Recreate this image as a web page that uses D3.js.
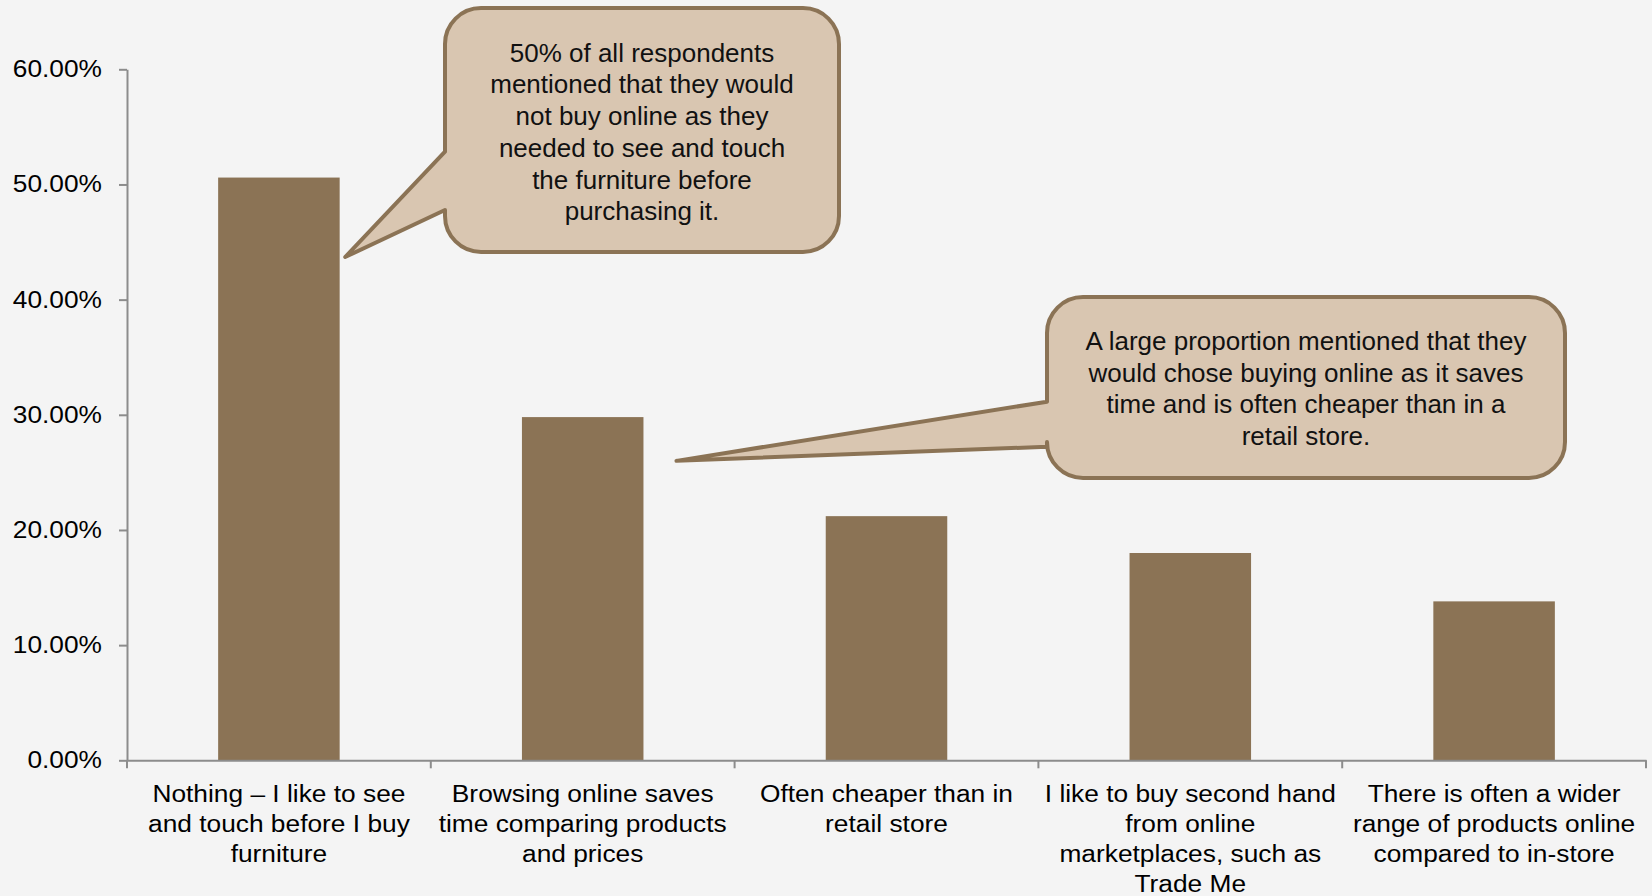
<!DOCTYPE html>
<html>
<head>
<meta charset="utf-8">
<script src="https://cdn.jsdelivr.net/npm/d3@7"></script>
<style>
  body { margin: 0; background: #f4f4f4; }
  svg { display: block; font-family: "Liberation Sans", Arial, sans-serif; }
</style>
</head>
<body>
<svg></svg>
<script>
// data
let categories = [
    ['Nothing \u2013 I like to see', 'and touch before I buy', 'furniture'],
    ['Browsing online saves', 'time comparing products', 'and prices'],
    ['Often cheaper than in', 'retail store'],
    ['I like to buy second hand', 'from online', 'marketplaces, such as', 'Trade Me'],
    ['There is often a wider', 'range of products online', 'compared to in-store']
]
let values = [0.506, 0.298, 0.212, 0.180, 0.138]
let yTicks = [0, 0.1, 0.2, 0.3, 0.4, 0.5, 0.6]

let note1 = ['50% of all respondents', 'mentioned that they would', 'not buy online as they',
    'needed to see and touch', 'the furniture before', 'purchasing it.']
let note2 = ['A large proportion mentioned that they', 'would chose buying online as it saves',
    'time and is often cheaper than in a', 'retail store.']

let width = 1652
let height = 896
let plotLeft = 127
let plotRight = 1646
let plotTop = 69.3
let plotBottom = 760.3

let barColor = '#8b7355'
let noteFill = '#d9c6b1'
let axisColor = '#8c8c8c'
let stretch = 1.12

let svg = d3.select('svg')
    .attr('width', width)
    .attr('height', height)

svg.append('rect')
    .attr('width', width)
    .attr('height', height)
    .attr('fill', '#f4f4f4')

let keys = categories.map((c, i) => i)

let xScale = d3.scaleBand()
    .domain(keys)
    .range([plotLeft, plotRight])
    .paddingInner(0.6)
    .paddingOuter(0.3)

let yScale = d3.scaleLinear()
    .domain([0, 0.6])
    .range([plotBottom, plotTop])

// bars
svg.append('g')
    .selectAll('rect')
    .data(values)
    .enter()
    .append('rect')
    .attr('x', (d, i) => xScale(i))
    .attr('y', (d) => yScale(d))
    .attr('width', xScale.bandwidth())
    .attr('height', (d) => plotBottom - yScale(d))
    .attr('fill', barColor)

// y axis
let yAxis = d3.axisLeft(yScale)
    .tickValues(yTicks)
    .tickFormat(d3.format('.2%'))
    .tickSize(8)
    .tickSizeOuter(0)

let yg = svg.append('g')
    .attr('transform', 'translate(' + plotLeft + ',0)')
    .call(yAxis)
yg.select('.domain').attr('stroke', axisColor).attr('stroke-width', 2)
yg.selectAll('.tick line').attr('stroke', axisColor).attr('stroke-width', 2)
yg.selectAll('.tick text')
    .attr('x', 0)
    .attr('transform', 'translate(-25,0) scale(' + stretch + ',1)')
    .attr('fill', '#000')
    .style('font-size', '23.5px')
    .style('font-family', '"Liberation Sans", Arial, sans-serif')

// x axis
let xAxis = d3.axisBottom(xScale)
    .tickSize(0)
    .tickFormat('')

let xg = svg.append('g')
    .attr('transform', 'translate(0,' + plotBottom + ')')
    .call(xAxis)
xg.select('.domain').attr('stroke', axisColor).attr('stroke-width', 2)
xg.selectAll('.tick').remove()

let step = xScale.step()
let bounds = d3.range(keys.length + 1).map((i) => xScale(0) - xScale.paddingOuter() * step + i * step)
xg.selectAll('.bound')
    .data(bounds)
    .enter()
    .append('line')
    .attr('x1', (d) => d)
    .attr('x2', (d) => d)
    .attr('y1', 0)
    .attr('y2', 8)
    .attr('stroke', axisColor)
    .attr('stroke-width', 2)

let labels = svg.append('g')
    .selectAll('g')
    .data(categories)
    .enter()
    .append('g')
    .attr('transform', (d, i) => 'translate(' + (xScale(i) + xScale.bandwidth() / 2) + ',0)')
    .append('text')
    .attr('transform', 'scale(' + stretch + ',1)')
    .attr('text-anchor', 'middle')
    .style('font-size', '23.5px')
    .attr('fill', '#000')

labels.selectAll('tspan')
    .data((d) => d)
    .enter()
    .append('tspan')
    .attr('x', 0)
    .attr('y', (d, j) => 801.7 + j * 30)
    .text((d) => d)

// callouts
let callout = (box, tip, baseTop, baseBottom, lines, firstBase) => {
    let r = 36
    let p = d3.path()
    p.moveTo(box.l + r, box.t)
    p.lineTo(box.r - r, box.t)
    p.arcTo(box.r, box.t, box.r, box.t + r, r)
    p.lineTo(box.r, box.b - r)
    p.arcTo(box.r, box.b, box.r - r, box.b, r)
    p.lineTo(box.l + r, box.b)
    p.arcTo(box.l, box.b, box.l, box.b - r, r)
    p.lineTo(box.l, baseBottom)
    p.lineTo(tip[0], tip[1])
    p.lineTo(box.l, baseTop)
    p.lineTo(box.l, box.t + r)
    p.arcTo(box.l, box.t, box.l + r, box.t, r)
    p.closePath()

    svg.append('path')
        .attr('d', p.toString())
        .attr('fill', noteFill)
        .attr('stroke', barColor)
        .attr('stroke-width', 4)
        .attr('stroke-linejoin', 'round')

    svg.append('text')
        .attr('text-anchor', 'middle')
        .style('font-size', '26px')
        .attr('fill', '#111')
        .selectAll('tspan')
        .data(lines)
        .enter()
        .append('tspan')
        .attr('x', (box.l + box.r) / 2)
        .attr('y', (d, i) => firstBase + i * 31.7)
        .text((d) => d)
}

let tip1 = [xScale(0) + xScale.bandwidth() + 5.5, yScale(0.437)]
let tip2 = [xScale(1) + xScale.bandwidth() + 33, yScale(0.26)]

callout({ l: 445, t: 8, r: 839, b: 252 }, tip1, 151.7, 210, note1, 61.7)
callout({ l: 1047, t: 297, r: 1565, b: 478 }, tip2, 401.7, 446.7, note2, 350)
</script>
</body>
</html>
